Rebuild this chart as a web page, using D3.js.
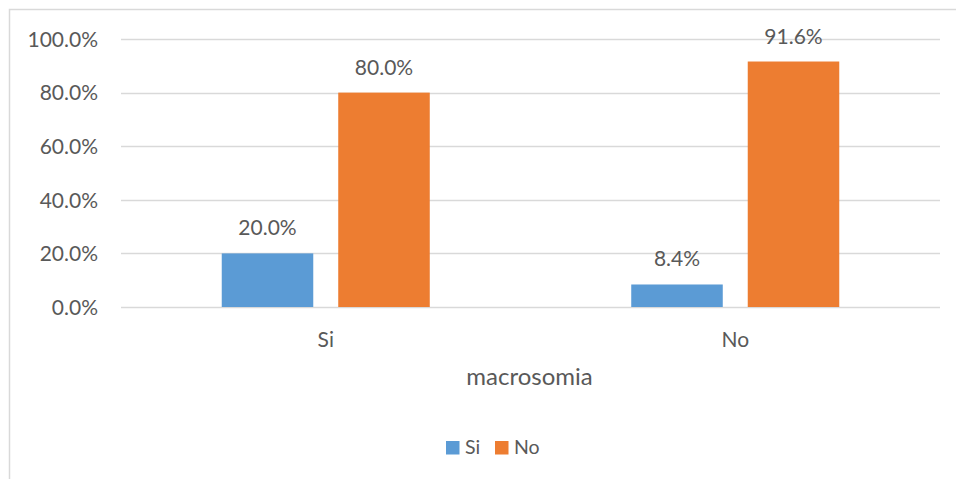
<!DOCTYPE html>
<html>
<head>
<meta charset="utf-8">
<script src="https://cdn.jsdelivr.net/npm/d3@7"></script>
<style>
  html, body { margin: 0; padding: 0; background: #fff; }
  svg { display: block; }
  text { font-family: Lato, "Open Sans", sans-serif; fill: #595959; }
</style>
</head>
<body>
<svg id="chart" width="956" height="479"></svg>
<script>
// Categories on the x axis and the two series (share of cases)
const categories = ["Si", "No"];
const seriesNames = ["Si", "No"];
const siValues = [0.200, 0.084];
const noValues = [0.800, 0.916];
const yTicks = [0, 0.2, 0.4, 0.6, 0.8, 1.0];
const axisTitle = "macrosomia";
const colors = ["#5B9BD5", "#ED7D31"];

const svg = d3.select("#chart");
const fmt = d3.format(".1%");
const FONT = "Lato, 'Open Sans', sans-serif";

// chart frame
svg.append("rect")
  .attr("x", 9.5).attr("y", 9.5)
  .attr("width", 960).attr("height", 480)
  .attr("fill", "none").attr("stroke", "#d9d9d9").attr("stroke-width", 1.5);

const plot = { left: 121, right: 940, top: 39, bottom: 307 };

const x0 = d3.scaleBand().domain(categories).range([plot.left, plot.right]).paddingInner(0).paddingOuter(0);
const y = d3.scaleLinear().domain([0, 1]).range([plot.bottom, plot.top]);

// gridlines
svg.append("g").selectAll("line").data(yTicks).join("line")
  .attr("x1", plot.left).attr("x2", plot.right)
  .attr("y1", d => Math.round(y(d)) + 0.5).attr("y2", d => Math.round(y(d)) + 0.5)
  .attr("stroke", "#d9d9d9").attr("stroke-width", 1.3);

// y axis labels
const yAxis = d3.axisLeft(y).tickValues(yTicks).tickFormat(fmt).tickSize(0).tickPadding(0);
const yg = svg.append("g").attr("transform", `translate(98,0)`).call(yAxis);
yg.select(".domain").remove();
yg.selectAll("text").attr("font-size", 21).attr("fill", "#595959")
  .style("font-family", FONT).attr("dy", "0.35em");

// bars
const groupW = x0.bandwidth();
const barW = groupW * 0.2235;
const gap = groupW * 0.061;
const data = categories.map((c, i) => ({ cat: c, vals: [siValues[i], noValues[i]] }));

const groups = svg.append("g").selectAll("g").data(data).join("g")
  .attr("transform", d => `translate(${x0(d.cat) + groupW / 2},0)`);

groups.selectAll("rect").data(d => d.vals.map((v, j) => ({ v, j }))).join("rect")
  .attr("x", d => d.j === 0 ? -gap / 2 - barW : gap / 2)
  .attr("width", barW)
  .attr("y", d => y(d.v))
  .attr("height", d => y(0) - y(d.v))
  .attr("fill", d => colors[d.j]);

// value labels above the bars
groups.selectAll("text.val").data(d => d.vals.map((v, j) => ({ v, j }))).join("text")
  .attr("class", "val")
  .attr("x", d => d.j === 0 ? -gap / 2 - barW / 2 : gap / 2 + barW / 2)
  .attr("y", d => y(d.v) - 18)
  .attr("text-anchor", "middle")
  .attr("font-size", 21)
  .text(d => fmt(d.v));

// x axis category labels
const xAxis = d3.axisBottom(x0).tickSize(0).tickPadding(0);
const xg = svg.append("g").attr("transform", `translate(0,${plot.bottom})`).call(xAxis);
xg.select(".domain").remove();
xg.selectAll("text").attr("font-size", 21).attr("fill", "#595959")
  .style("font-family", FONT).attr("dy", 0).attr("y", 40);

// axis title
svg.append("text")
  .attr("x", (plot.left + plot.right) / 2 - 1)
  .attr("y", 385)
  .attr("text-anchor", "middle")
  .attr("font-size", 24)
  .text(axisTitle);

// legend
const legend = svg.append("g");
const legendX = [446, 495];
seriesNames.forEach((name, i) => {
  legend.append("rect").attr("x", legendX[i]).attr("y", 441)
    .attr("width", 13.5).attr("height", 13.5).attr("fill", colors[i]);
  legend.append("text").attr("x", legendX[i] + 19).attr("y", 454)
    .attr("font-size", 19.5).text(name);
});
</script>
</body>
</html>
